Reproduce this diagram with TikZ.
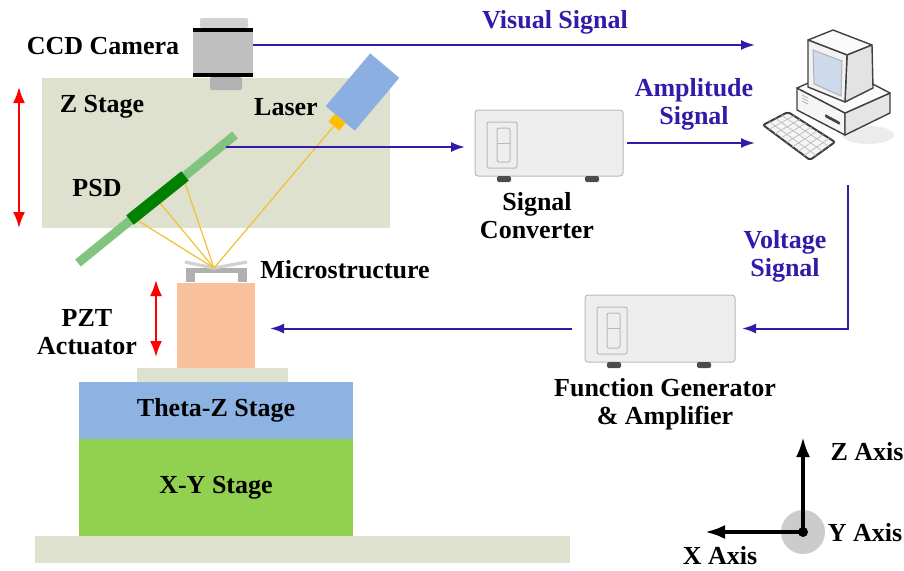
\documentclass[tikz,border=0pt]{standalone}
\usepackage{fontspec}
\setmainfont{Liberation Serif}
\usepackage{tikz}
\usetikzlibrary{arrows.meta, calc}
\usepackage{xcolor}
\definecolor{SigBlue}{RGB}{48,28,168}
\definecolor{ZStageGrey}{RGB}{221,225,205}
\definecolor{ThetaBlue}{RGB}{141,179,226}
\definecolor{XYGreen}{RGB}{146,208,80}
\definecolor{PZTPeach}{RGB}{248,192,155}
\definecolor{PSDLight}{RGB}{128,196,128}
\definecolor{PSDDark}{RGB}{0,128,0}
\definecolor{LaserBlue}{RGB}{140,175,225}
\definecolor{NozzleGold}{RGB}{255,190,0}
\definecolor{BeamGold}{RGB}{242,192,50}
\definecolor{ScreenBlue}{RGB}{205,218,236}

\begin{document}
\begin{tikzpicture}[
            x=0.5pt, y=-0.5pt,
            font=\fontsize{13}{14}\selectfont\bfseries,
            lbl/.style={align=center, inner sep=0pt},
            siglbl/.style={lbl, text=SigBlue},
            sig/.style={draw=SigBlue, line width=1pt, -{Latex[length=7pt,width=5pt]}},
            updown/.style={draw=red, line width=1pt, {Latex[length=8pt,width=6pt]}-{Latex[length=8pt,width=6pt]}},
            axis/.style={draw=black, line width=1.8pt, -{Latex[length=10pt,width=7pt]}},
            ray/.style={draw=BeamGold, line width=0.6pt},
            stage/.style={rectangle, inner sep=0pt, outer sep=0pt},
            instr/.style={rectangle, rounded corners=1.5pt, draw=gray!55, fill=gray!13,
                inner sep=0pt, outer sep=0pt, line width=0.5pt},
            panel/.style={draw=gray!55, line width=0.5pt, rounded corners=1pt},
            pcline/.style={draw=black!75, line width=0.7pt, line join=round}
        ]
        \useasboundingbox (0,0) rectangle (904,570);

        % --- Stages ---
        \node[stage, fill=ZStageGrey, minimum width=174pt, minimum height=75pt] (zstage) at (216,153) {};
        \node[stage, fill=ZStageGrey, minimum width=267.5pt, minimum height=13.5pt] (base) at (302.5,549.5) {};
        \node[stage, fill=XYGreen, minimum width=137pt, minimum height=48.5pt] (xy) at (216,487.5) {X-Y Stage};
        \node[stage, fill=ThetaBlue, minimum width=137pt, minimum height=28.5pt] (theta) at (216,410.5) {Theta-Z Stage};
        \node[stage, fill=ZStageGrey, minimum width=75.5pt, minimum height=7pt] (plate) at (212.5,375) {};
        \node[stage, fill=PZTPeach, minimum width=39pt, minimum height=42.5pt] (pzt) at (216,325.5) {};

        % --- Microstructure on the actuator ---
        \node[stage, fill=gray!62, minimum width=30.5pt, minimum height=7pt] (micro) at (216.5,275) {};
        \fill[white] ($(micro.north west)+(9,5)$) rectangle ($(micro.south east)+(-9,0)$);
        \coordinate (focus) at (214,268);
        \draw[gray!35, line width=1.6pt] (185,262) -- (focus) -- (247,262);

        % --- Laser and reflected rays ---
        \node[stage, fill=LaserBlue, rotate=49.9, minimum width=34.5pt, minimum height=19pt] (laser) at (362.5,92) {};
        \node[stage, fill=NozzleGold, rotate=49.9, minimum width=5pt, minimum height=7pt, anchor=east] (nozzle) at (laser.west) {};
        \draw[ray] (nozzle.west) -- (focus);
        \coordinate (psdA) at (137,220);
        \coordinate (psdB) at (160,203);
        \coordinate (psdC) at (185,183);
        \foreach \p in {psdA, psdB, psdC}
            \draw[ray] (focus) -- (\p);

        % --- PSD ---
        \coordinate (psdout) at (226,147);
        \draw[PSDLight, line width=4.5pt] (78,263) -- (235,135);
        \draw[PSDDark, line width=6pt] (130,220) -- (185,176);

        % --- CCD camera ---
        \fill[gray!35, rounded corners=1pt] (200,18) rectangle (248,28);
        \fill[gray!60, rounded corners=1pt] (210,77) rectangle (242,90);
        \node[stage, fill=gray!50, minimum width=30pt, minimum height=24.5pt] (camera) at (223,52.5) {};
        \draw[black, line width=2pt] ([yshift=-1pt]camera.north west) -- ([yshift=-1pt]camera.north east);
        \draw[black, line width=2pt] ([yshift=1pt]camera.south west) -- ([yshift=1pt]camera.south east);

        % --- Instruments ---
        \node[instr, minimum width=74pt, minimum height=33pt] (conv) at (549,143) {};
        \node[instr, minimum width=75pt, minimum height=33.5pt] (gen) at (660,328.5) {};
        \foreach \b in {conv, gen} {
            \fill[black!70, rounded corners=1pt] ($(\b.south west)+(22,0)$) rectangle ($(\b.south west)+(36,6)$);
            \fill[black!70, rounded corners=1pt] ($(\b.south east)+(-38,0)$) rectangle ($(\b.south east)+(-24,6)$);
            \draw[panel] ($(\b.north west)+(12,12)$) rectangle ($(\b.south west)+(42,-8)$);
            \draw[panel] ($(\b.north west)+(22,18)$) rectangle ($(\b.south west)+(35,-14)$);
            \draw[panel] ($(\b.west)+(22,0)$) -- ($(\b.west)+(35,0)$);
        }

        % --- Computer ---
        \fill[gray!15] (868,135) ellipse [x radius=26, y radius=9];
        \filldraw[pcline, fill=gray!8] (797,88) -- (845,113) -- (845,135) -- (797,110) -- cycle;
        \filldraw[pcline, fill=gray!20] (845,113) -- (890,93) -- (890,113) -- (845,135) -- cycle;
        \filldraw[pcline, fill=gray!4] (797,88) -- (842,68) -- (890,93) -- (845,113) -- cycle;
        \fill[black!75, rounded corners=0.5pt] (825,114) -- (840,122) -- (840,125) -- (825,117) -- cycle;
        \foreach \v in {0,3,6}
            \draw[gray!60, line width=0.4pt] (802,{95+\v}) -- (808,{98+\v});
        \filldraw[pcline, fill=gray!4] (808,40) -- (833,30) -- (872,45) -- (847,55) -- cycle;
        \filldraw[pcline, fill=gray!22] (847,55) -- (872,45) -- (873,88) -- (845,102) -- cycle;
        \filldraw[pcline, fill=gray!10] (808,40) -- (847,55) -- (845,102) -- (808,87) -- cycle;
        \filldraw[draw=gray!60, line width=0.5pt, fill=ScreenBlue] (813,50) -- (842,61) -- (841,96) -- (814,84) -- cycle;
        \coordinate (kA) at (763,125);
        \coordinate (kB) at (788,112);
        \coordinate (kC) at (835,142);
        \coordinate (kD) at (810,160);
        \filldraw[pcline, line width=1pt, fill=gray!8, rounded corners=1pt] (kA) -- (kB) -- (kC) -- (kD) -- cycle;
        \foreach \t in {0.25,0.5,0.75}
            \draw[gray!50, line width=0.4pt] ($(kA)!\t!(kB)$) -- ($(kD)!\t!(kC)$);
        \foreach \t in {0.125,0.25,...,0.875}
            \draw[gray!50, line width=0.4pt] ($(kA)!\t!(kD)$) -- ($(kB)!\t!(kC)$);
        \node[stage, minimum width=66pt, minimum height=67.5pt] (pc) at (826,97.5) {};

        % --- Signal flows ---
        \draw[sig, shorten >=2.5pt] ([yshift=3.75pt]camera.east) -- ([yshift=3.75pt]camera.east -| pc.west);
        \draw[sig, shorten >=5pt] (psdout) -- (psdout -| conv.west);
        \draw[sig, shorten <=2pt, shorten >=2.5pt] (conv.east) -- (conv.east -| pc.west);
        \coordinate (vtop) at ($(pc.south)+(22,20)$);
        \draw[sig, shorten >=3.5pt] (vtop) |- (gen.east);
        \draw[sig, shorten <=6.5pt, shorten >=7.5pt] (gen.west) -- (gen.west -| pzt.east);

        % --- Motion arrows ---
        \draw[updown] ([xshift=-11.5pt, yshift=-4.5pt]zstage.north west) -- ([xshift=-11.5pt]zstage.south west);
        \draw[updown] (156,280) -- (156,357);

        % --- Axes ---
        \coordinate (origin) at (803,532);
        \fill[gray!40] (origin) circle [radius=11pt];
        \draw[axis] (origin) -- ++(0,-95) coordinate (ztip);
        \draw[axis] (origin) -- ++(-98,0) coordinate (xtip);
        \fill[black] (origin) circle [radius=2.5pt];

        % --- Labels ---
        \node[lbl] (camlbl) at (103,46) {CCD Camera};
        \node[lbl] (zlbl) at (102,107) {Z Stage};
        \node[lbl] (laserlbl) at (286,107) {Laser};
        \node[lbl] (psdlbl) at (97,188) {PSD};
        \node[lbl] (microlbl) at (345,270) {Microstructure};
        \node[lbl] (pztlbl) at (87,332) {PZT\\Actuator};
        \node[lbl] (convlbl) at (537,216) {Signal\\Converter};
        \node[lbl] (genlbl) at (665,404) {Function Generator\\\& Amplifier};
        \node[siglbl] (vislbl) at (555,22) {Visual Signal};
        \node[siglbl] (amplbl) at (694,104) {Amplitude\\Signal};
        \node[siglbl] (voltlbl) at (785,256) {Voltage\\Signal};
        \node[lbl] (zaxlbl) at (867,452) {Z Axis};
        \node[lbl] (yaxlbl) at (865,533) {Y Axis};
        \node[lbl] (xaxlbl) at (720,556) {X Axis};

        \end{tikzpicture}
\end{document}
